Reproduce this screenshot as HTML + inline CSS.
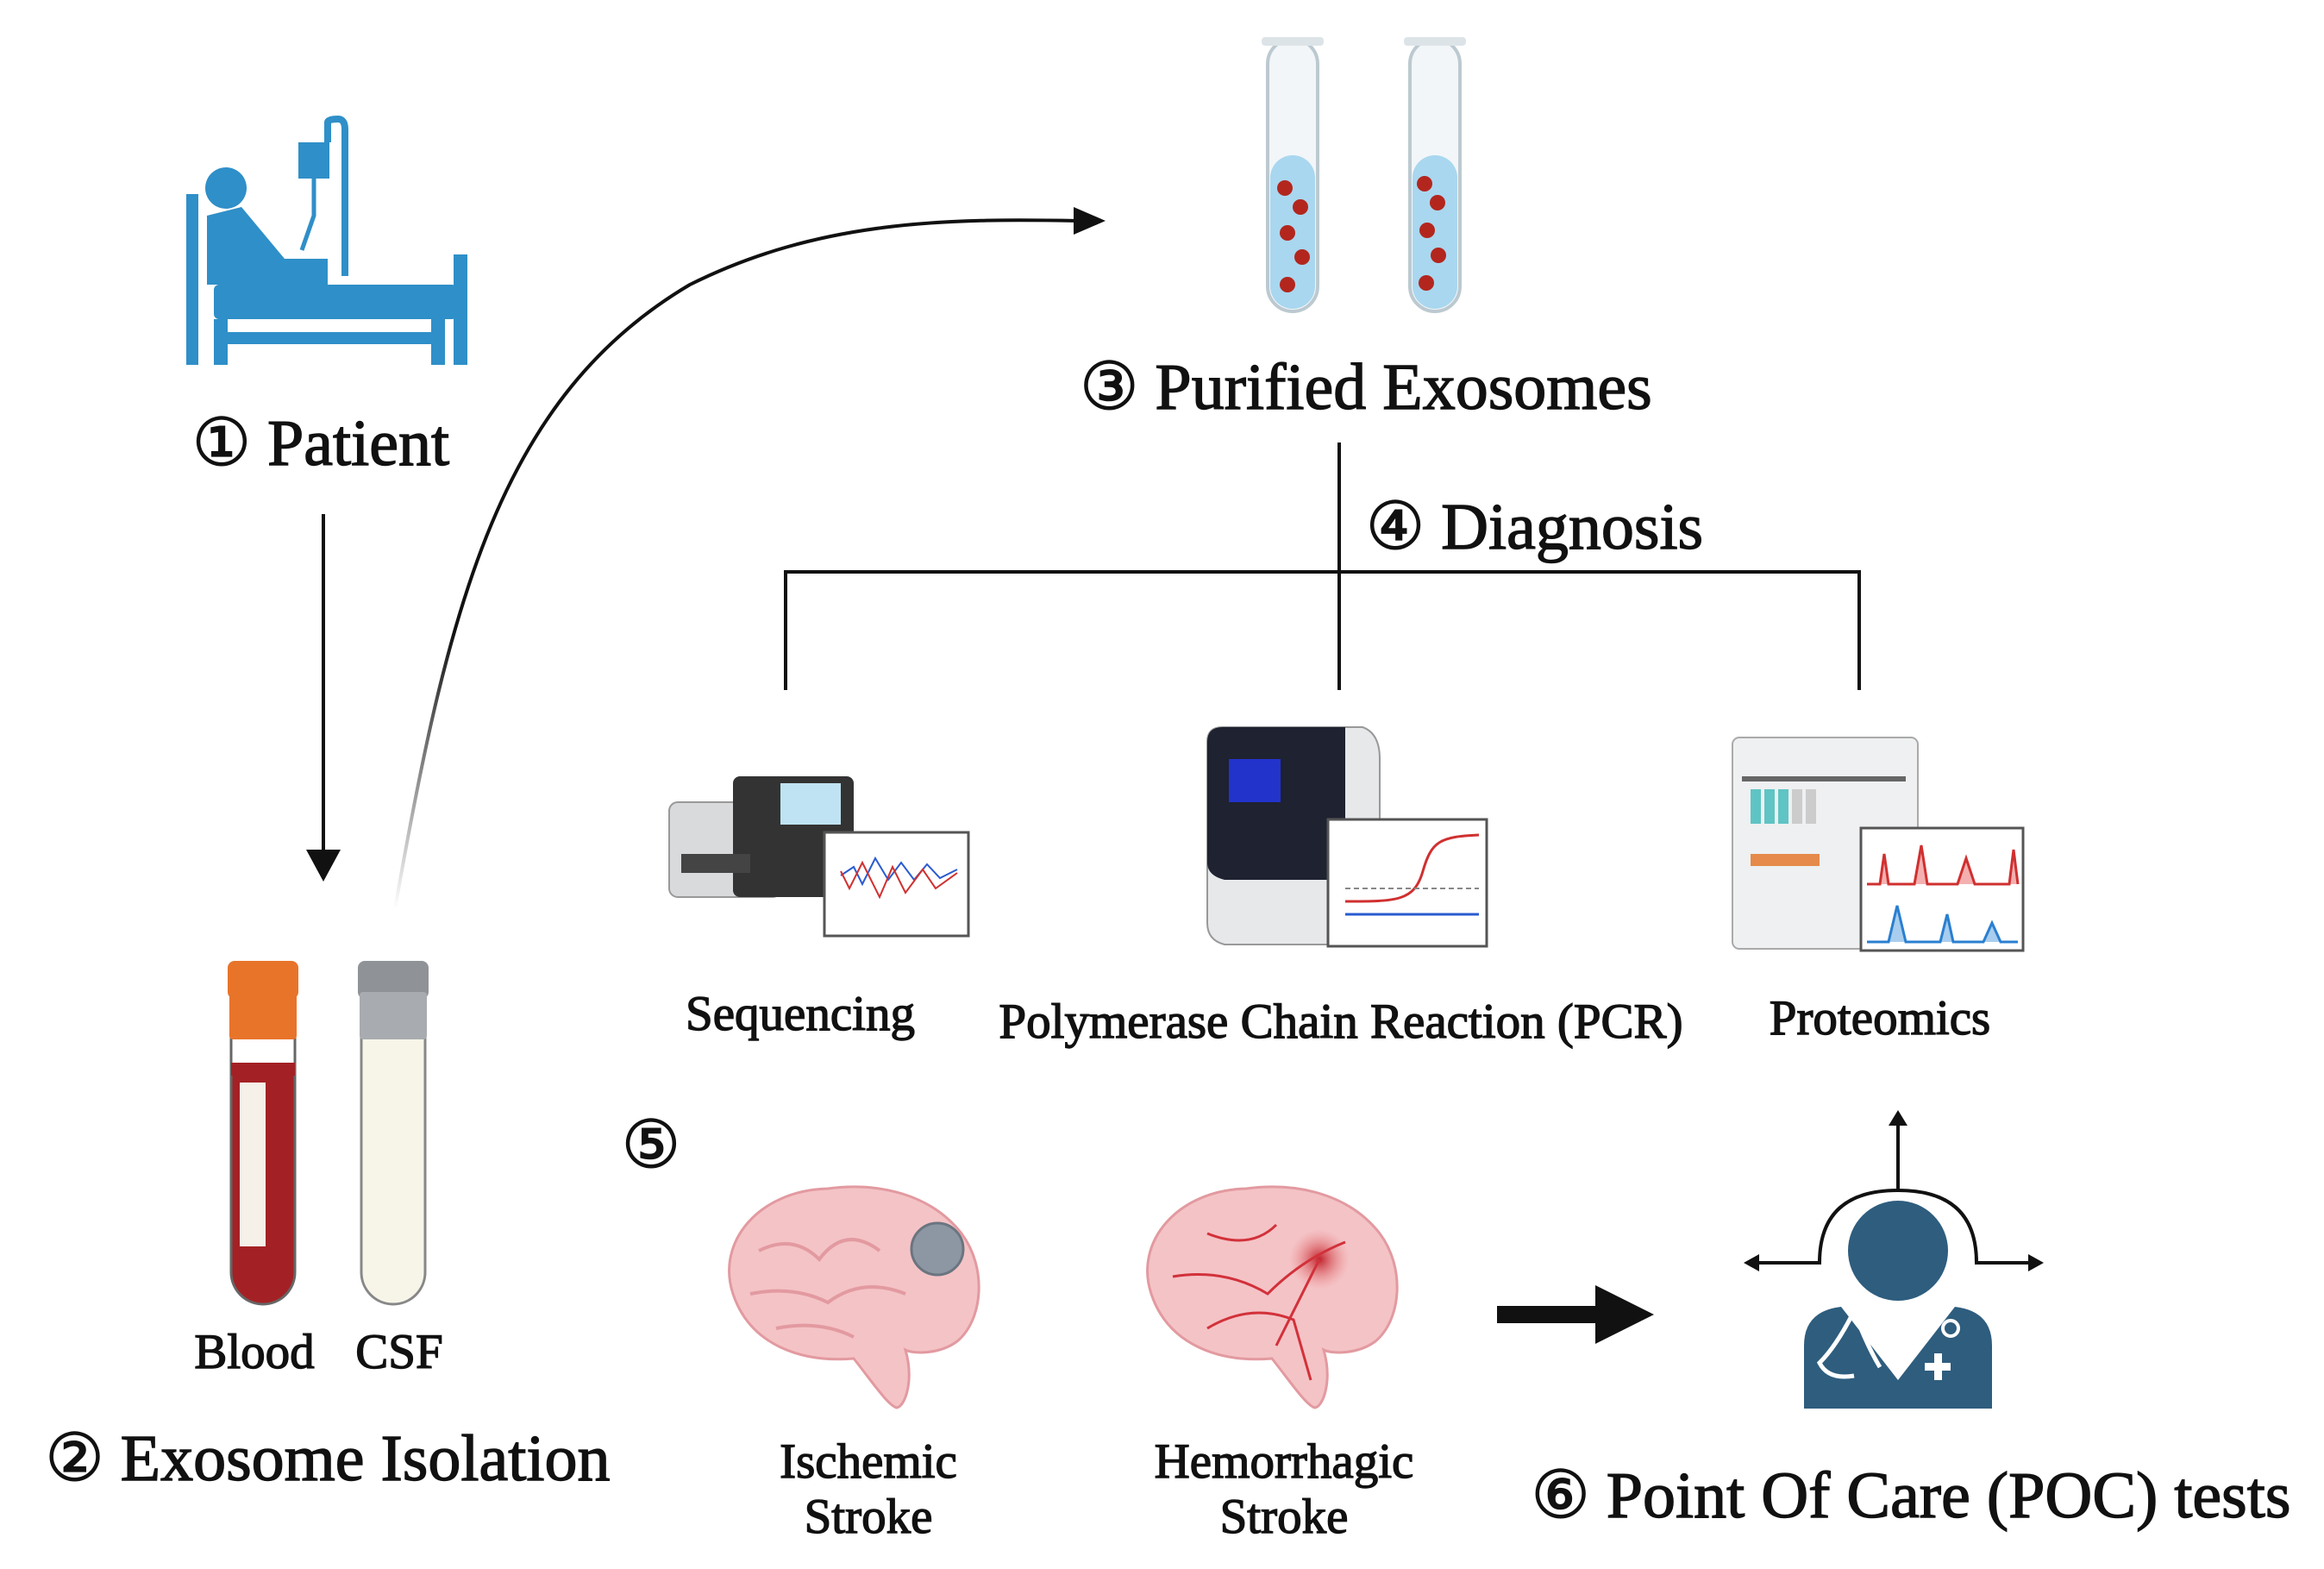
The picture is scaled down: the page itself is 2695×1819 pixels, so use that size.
<!DOCTYPE html>
<html><head><meta charset="utf-8"><style>
html,body{margin:0;padding:0;background:#fff;}
svg{display:block}
text{font-family:"Liberation Serif",serif;fill:#111;stroke:#111;stroke-width:1.4px}
</style></head><body>
<svg width="2695" height="1819" viewBox="0 0 2695 1819" xmlns="http://www.w3.org/2000/svg">
<defs>
<linearGradient id="fade" x1="0" y1="1" x2="0" y2="0"><stop offset="0" stop-color="#111" stop-opacity="0"/><stop offset="0.4" stop-color="#111" stop-opacity="1"/></linearGradient>
<radialGradient id="bleed"><stop offset="0" stop-color="#c0202a"/><stop offset="1" stop-color="#e88" stop-opacity="0"/></radialGradient>
</defs>

<!-- Patient bed icon -->
<g fill="#2f8fc8">
<rect x="216" y="225" width="14" height="198"/>
<rect x="526" y="295" width="16" height="128"/>
<rect x="248" y="330" width="282" height="40" rx="6"/>
<rect x="248" y="370" width="16" height="53"/>
<rect x="500" y="370" width="16" height="53"/>
<rect x="248" y="385" width="268" height="14"/>
<circle cx="262" cy="218" r="24"/>
<path d="M240 250 L280 240 L330 300 L380 300 L380 330 L240 330 z"/>
<rect x="346" y="165" width="36" height="42"/>
</g>
<path d="M380 165 L380 142 Q380 138 392 138 Q400 138 400 150 L400 320" stroke="#2f8fc8" stroke-width="8" fill="none"/>
<path d="M364 207 L364 250 L350 290" stroke="#2f8fc8" stroke-width="5" fill="none"/>
<text x="372" y="539" font-size="76" text-anchor="middle">① Patient</text>

<!-- down arrow -->
<line x1="375" y1="596" x2="375" y2="1000" stroke="#111" stroke-width="4"/>
<path d="M355 985 L395 985 L375 1022 z" fill="#111"/>

<!-- curved arrow -->
<path d="M458 1054 C520 700 580 460 800 330 C950 255 1100 253 1250 256" stroke="url(#fade)" stroke-width="4" fill="none"/>
<path d="M1245 240 L1282 256 L1245 272 z" fill="#111"/>

<!-- test tubes -->
<g>
<rect x="1470" y="45" width="58" height="316" rx="29" fill="#f2f6f8" stroke="#bcc9d0" stroke-width="4"/>
<rect x="1473" y="180" width="52" height="178" rx="26" fill="#a9d7ef"/>
<rect x="1463" y="43" width="72" height="10" rx="4" fill="#dde4e8"/>
<g fill="#b3261e"><circle cx="1490" cy="218" r="9"/><circle cx="1508" cy="240" r="9"/><circle cx="1493" cy="270" r="9"/><circle cx="1510" cy="298" r="9"/><circle cx="1493" cy="330" r="9"/></g>
<rect x="1635" y="45" width="58" height="316" rx="29" fill="#f2f6f8" stroke="#bcc9d0" stroke-width="4"/>
<rect x="1638" y="180" width="52" height="178" rx="26" fill="#a9d7ef"/>
<rect x="1628" y="43" width="72" height="10" rx="4" fill="#dde4e8"/>
<g fill="#b3261e"><circle cx="1652" cy="213" r="9"/><circle cx="1667" cy="235" r="9"/><circle cx="1655" cy="267" r="9"/><circle cx="1668" cy="296" r="9"/><circle cx="1654" cy="328" r="9"/></g>
</g>
<text x="1584" y="474" font-size="76" text-anchor="middle">③ Purified Exosomes</text>

<!-- diagnosis tree -->
<g stroke="#111" stroke-width="4" fill="none">
<line x1="1553" y1="513" x2="1553" y2="800"/>
<polyline points="911,800 911,663 2156,663 2156,800"/>
</g>
<text x="1584" y="636" font-size="76">④ Diagnosis</text>

<!-- Sequencing instrument -->
<g>
<rect x="776" y="930" width="130" height="110" rx="10" fill="#d8dadc" stroke="#999" stroke-width="2"/>
<rect x="850" y="900" width="140" height="140" rx="8" fill="#333"/>
<rect x="905" y="908" width="70" height="48" fill="#bfe3f2"/>
<rect x="790" y="990" width="80" height="22" fill="#444"/>
<rect x="956" y="965" width="167" height="120" fill="#fff" stroke="#555" stroke-width="3"/>
<polyline points="975,1015 990,1005 1000,1025 1015,995 1030,1020 1045,1000 1060,1020 1075,1002 1090,1018 1110,1008" stroke="#2a5bd0" stroke-width="2" fill="none"/>
<polyline points="975,1010 985,1030 1000,1000 1020,1040 1035,1005 1050,1035 1070,1008 1085,1030 1110,1012" stroke="#d03030" stroke-width="2" fill="none"/>
</g>
<text x="928" y="1194" font-size="57" text-anchor="middle">Sequencing</text>

<!-- PCR instrument -->
<g>
<path d="M1400 860 Q1400 843 1418 843 L1580 843 Q1600 850 1600 880 L1600 1095 L1420 1095 Q1400 1090 1400 1070 z" fill="#e6e8ea" stroke="#999" stroke-width="2"/>
<path d="M1400 860 Q1400 843 1418 843 L1560 843 L1560 1020 L1420 1020 Q1400 1015 1400 1000 z" fill="#1f2230"/>
<rect x="1425" y="880" width="60" height="50" fill="#2233cc"/>
<rect x="1540" y="950" width="184" height="147" fill="#fff" stroke="#555" stroke-width="3"/>
<path d="M1560 1045 C1620 1045 1640 1045 1650 1010 C1660 975 1670 970 1715 968" stroke="#d03030" stroke-width="3" fill="none"/>
<line x1="1560" y1="1060" x2="1715" y2="1060" stroke="#2a5bd0" stroke-width="3"/>
<line x1="1560" y1="1030" x2="1715" y2="1030" stroke="#888" stroke-width="2" stroke-dasharray="6,4"/>
</g>
<text x="1555" y="1203" font-size="57" text-anchor="middle">Polymerase Chain Reaction (PCR)</text>

<!-- Proteomics instrument -->
<g>
<rect x="2009" y="855" width="215" height="245" rx="8" fill="#eef0f1" stroke="#aaa" stroke-width="2"/>
<rect x="2030" y="915" width="12" height="40" fill="#5fc4c4"/><rect x="2046" y="915" width="12" height="40" fill="#5fc4c4"/><rect x="2062" y="915" width="12" height="40" fill="#5fc4c4"/><rect x="2078" y="915" width="12" height="40" fill="#ccc"/><rect x="2094" y="915" width="12" height="40" fill="#ccc"/>
<rect x="2030" y="990" width="80" height="14" fill="#e58a4a"/>
<rect x="2020" y="900" width="190" height="6" fill="#666"/>
<rect x="2158" y="960" width="188" height="142" fill="#fff" stroke="#555" stroke-width="3"/>
<polyline points="2165,1025 2180,1025 2185,990 2190,1025 2220,1025 2228,980 2235,1025 2270,1025 2280,995 2290,1025 2330,1025 2335,985 2340,1025" stroke="#d03030" stroke-width="3" fill="#f4b0b0"/>
<polyline points="2165,1092 2190,1092 2200,1050 2210,1092 2250,1092 2258,1060 2265,1092 2300,1092 2310,1070 2320,1092 2340,1092" stroke="#2a7fd0" stroke-width="3" fill="#a8cdee"/>
</g>
<text x="2180" y="1199" font-size="57" text-anchor="middle">Proteomics</text>

<!-- 5 -->
<text x="755" y="1353" font-size="76" text-anchor="middle">⑤</text>

<!-- brains -->
<g>
<path d="M850 1500 C830 1440 880 1380 960 1378 C1020 1370 1080 1385 1115 1430 C1145 1470 1140 1530 1110 1555 C1090 1570 1060 1570 1050 1565 C1060 1600 1050 1630 1040 1632 C1030 1630 1010 1600 990 1575 C930 1580 870 1560 850 1500 z" fill="#f4c3c6" stroke="#e29aa0" stroke-width="3"/>
<path d="M880 1450 Q920 1430 950 1460 Q980 1420 1020 1450 M870 1500 Q920 1490 960 1510 Q1000 1480 1050 1500 M900 1540 Q950 1530 990 1550" stroke="#e29aa0" stroke-width="4" fill="none"/>
<ellipse cx="1087" cy="1448" rx="30" ry="30" fill="#8d97a3" stroke="#6b7580" stroke-width="3"/>
<path d="M1335 1500 C1315 1440 1365 1380 1445 1378 C1505 1370 1565 1385 1600 1430 C1630 1470 1625 1530 1595 1555 C1575 1570 1545 1570 1535 1565 C1545 1600 1535 1630 1525 1632 C1515 1630 1495 1600 1475 1575 C1415 1580 1355 1560 1335 1500 z" fill="#f4c3c6" stroke="#e29aa0" stroke-width="3"/>
<circle cx="1530" cy="1460" r="35" fill="url(#bleed)"/>
<path d="M1360 1480 Q1420 1470 1470 1500 Q1510 1460 1560 1440 M1400 1430 Q1450 1450 1480 1420 M1400 1540 Q1450 1510 1500 1530 L1520 1600 M1530 1460 L1480 1560" stroke="#d2313a" stroke-width="3" fill="none"/>
</g>
<text x="1007" y="1713" font-size="57" text-anchor="middle">Ischemic</text>
<text x="1007" y="1777" font-size="57" text-anchor="middle">Stroke</text>
<text x="1489" y="1713" font-size="57" text-anchor="middle">Hemorrhagic</text>
<text x="1489" y="1777" font-size="57" text-anchor="middle">Stroke</text>

<!-- thick arrow -->
<path d="M1736 1514 L1850 1514 L1850 1490 L1918 1524 L1850 1558 L1850 1534 L1736 1534 z" fill="#111"/>

<!-- doctor icon -->
<g>
<line x1="2201" y1="1380" x2="2201" y2="1300" stroke="#111" stroke-width="4"/>
<path d="M2190 1305 L2201 1287 L2212 1305 z" fill="#111"/>
<path d="M2030 1464 L2110 1464 Q2110 1380 2201 1380 Q2292 1380 2292 1464 L2360 1464" stroke="#111" stroke-width="4" fill="none"/>
<path d="M2040 1454 L2022 1464 L2040 1474 z" fill="#111"/><path d="M2352 1454 L2370 1464 L2352 1474 z" fill="#111"/>
<circle cx="2201" cy="1450" r="58" fill="#2e5d7e"/>
<path d="M2092 1633 L2092 1560 Q2092 1520 2135 1515 L2201 1600 L2267 1515 Q2310 1520 2310 1560 L2310 1633 z" fill="#2e5d7e"/>
<path d="M2150 1520 Q2130 1560 2110 1580 Q2120 1600 2150 1595 M2150 1520 Q2165 1560 2180 1585" stroke="#fff" stroke-width="5" fill="none"/>
<circle cx="2262" cy="1540" r="9" fill="none" stroke="#fff" stroke-width="4"/>
<rect x="2232" y="1580" width="30" height="9" fill="#fff"/><rect x="2243" y="1569" width="9" height="31" fill="#fff"/>
</g>
<text x="2216" y="1759" font-size="76" text-anchor="middle">⑥ Point Of Care (POC) tests</text>

<!-- blood tubes -->
<g>
<rect x="268" y="1150" width="74" height="362" rx="37" fill="#a32124" stroke="#666" stroke-width="3"/>
<rect x="268" y="1150" width="74" height="90" fill="#fff" stroke="#666" stroke-width="3"/>
<rect x="268" y="1232" width="74" height="15" fill="#a32124"/>
<rect x="278" y="1255" width="30" height="190" fill="#f5f0e8"/>
<rect x="264" y="1114" width="82" height="44" rx="8" fill="#e8742a"/>
<rect x="266" y="1150" width="78" height="55" rx="4" fill="#e8742a"/>
<rect x="419" y="1150" width="74" height="362" rx="37" fill="#f7f5e8" stroke="#888" stroke-width="3"/>
<rect x="415" y="1114" width="82" height="44" rx="8" fill="#8f9398"/>
<rect x="417" y="1150" width="78" height="55" rx="4" fill="#a8acb0"/>
</g>
<text x="295" y="1586" font-size="57" text-anchor="middle">Blood</text>
<text x="463" y="1586" font-size="57" text-anchor="middle">CSF</text>
<text x="380" y="1716" font-size="76" text-anchor="middle">② Exosome Isolation</text>
</svg>
</body></html>
